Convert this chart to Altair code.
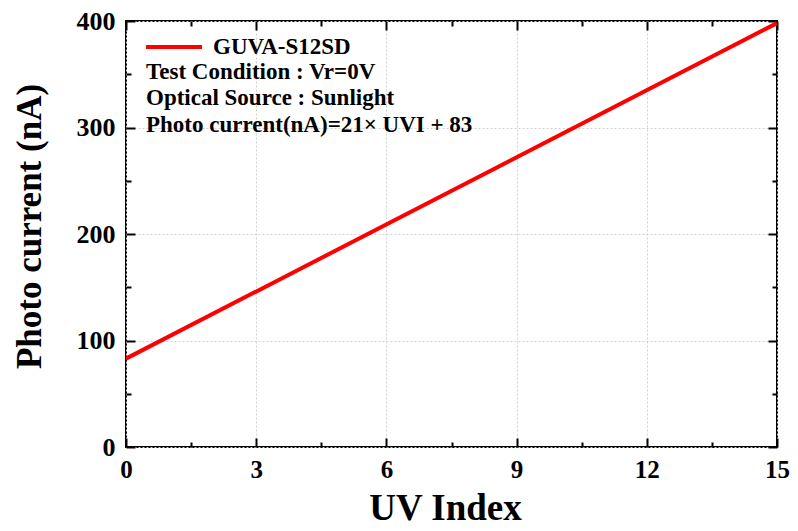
import altair as alt
import pandas as pd

uvi = [0, 15]
current = [83, 398]
series_name = "GUVA-S12SD"
notes = ["Test Condition : Vr=0V", "Optical Source : Sunlight", "Photo current(nA)=21\u00d7 UVI + 83"]
x_ticks = [0, 1.5, 3, 4.5, 6, 7.5, 9, 10.5, 12, 13.5, 15]
y_ticks = [0, 50, 100, 150, 200, 250, 300, 350, 400]

df = pd.DataFrame({"uvi": uvi, "current": current, "series": [series_name] * len(uvi)})

FONT = "Liberation Serif"
xmaj = "datum.value % 3 === 0"
ymaj = "datum.value % 100 === 0"

xscale = alt.Scale(domain=[0, 15], nice=False, zero=False)
yscale = alt.Scale(domain=[0, 400], nice=False, zero=False)

common_axis = dict(domain=False, tickColor="black", tickWidth=2, gridColor="#d0d0d0",
                   gridDash=[2, 2], gridWidth=1)

x_bottom = alt.Axis(values=x_ticks, orient="bottom", title="UV Index",
                    tickSize=alt.ExprRef(f"{xmaj} ? -9 : -5"),
                    gridOpacity=alt.ExprRef(f"{xmaj} ? 1 : 0"),
                    labelExpr=f"{xmaj} ? datum.label : ''",
                    labelFont=FONT, labelFontSize=25, labelFontWeight="bold", labelColor="black",
                    labelPadding=19, labelFlush=False,
                    titleFont=FONT, titleFontSize=37, titleFontWeight="bold", titleColor="black",
                    titleBaseline="alphabetic", titleX=319, titleY=72, titleAlign="center",
                    **common_axis)
y_left = alt.Axis(values=y_ticks, orient="left", title="Photo current (nA)",
                  tickSize=alt.ExprRef(f"{ymaj} ? -9 : -5"),
                  gridOpacity=alt.ExprRef(f"{ymaj} ? 1 : 0"),
                  labelExpr=f"{ymaj} ? datum.label : ''",
                  labelFont=FONT, labelFontSize=26, labelFontWeight="bold", labelColor="black",
                  labelPadding=20, labelFlush=False,
                  titleFont=FONT, titleFontSize=35, titleFontWeight="bold", titleColor="black",
                  titleBaseline="middle", titleAlign="center", titleAngle=270,
                  titleX=-97, titleY=205,
                  **common_axis)
x_top = alt.Axis(values=x_ticks, orient="top", title=None, labels=False, grid=False,
                 tickSize=alt.ExprRef(f"{xmaj} ? -9 : -5"), domain=False,
                 tickColor="black", tickWidth=2)
y_right = alt.Axis(values=y_ticks, orient="right", title=None, labels=False, grid=False,
                   tickSize=alt.ExprRef(f"{ymaj} ? -9 : -5"), domain=False,
                   tickColor="black", tickWidth=2)

line = alt.Chart(df).mark_line(strokeWidth=4, clip=True).encode(
    x=alt.X("uvi:Q", scale=xscale, axis=x_bottom),
    y=alt.Y("current:Q", scale=yscale, axis=y_left),
    color=alt.Color("series:N", scale=alt.Scale(domain=[series_name], range=["#ff0000"]),
                    legend=alt.Legend(title=None, orient="none", legendX=18, legendY=-4,
                                      symbolType="stroke", symbolSize=3136, symbolStrokeWidth=4,
                                      labelFont=FONT, labelFontSize=23, labelFontWeight="bold",
                                      labelColor="black", labelOffset=9, padding=0)),
)

mirror = alt.Chart(df).mark_line(opacity=0).encode(
    x=alt.X("uvi:Q", scale=xscale, axis=x_top),
    y=alt.Y("current:Q", scale=yscale, axis=y_right),
)

note_y = [51, 77, 104]
note_layers = []
for txt, yy in zip(notes, note_y):
    note_layers.append(
        alt.Chart(pd.DataFrame({"t": [txt]})).mark_text(
            align="left", baseline="middle", font=FONT, fontSize=23, fontWeight="bold", color="black"
        ).encode(text="t:N", x=alt.value(20), y=alt.value(yy))
    )

chart = alt.layer(line, mirror, *note_layers).resolve_axis(x="independent", y="independent").properties(
    width=651, height=426,
    autosize=alt.AutoSizeParams(type="none"),
    padding={"left": 118, "top": 13, "right": 13, "bottom": 79},
    background="white",
).configure_view(stroke="black", strokeWidth=2)

chart.save("out.html", embed_options={"renderer": "svg", "actions": False})
